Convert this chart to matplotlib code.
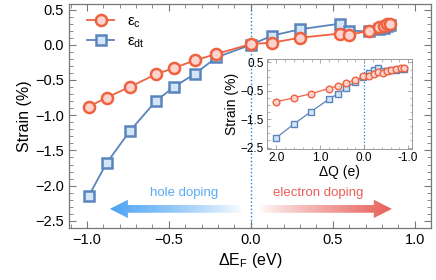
import numpy as np
import matplotlib
matplotlib.use('Agg')
import matplotlib.pyplot as plt
from matplotlib.patches import FancyArrow
from matplotlib.ticker import MultipleLocator, FormatStrFormatter

plt.rcParams['font.family'] = ['Liberation Sans', 'DejaVu Sans']
plt.rcParams['mathtext.default'] = 'regular'

## dados
dEF = [-0.99, -0.88, -0.74, -0.58, -0.47, -0.34, -0.21, 0.0, 0.13, 0.30,
       0.545, 0.60, 0.72, 0.78, 0.81, 0.83, 0.85]
dQ = [2.0, 1.61, 1.21, 0.81, 0.60, 0.42, 0.21, 0.02, -0.11, -0.22,
      -0.32, -0.42, -0.52, -0.62, -0.72, -0.83, -0.90]
strain_c = [-0.88, -0.75, -0.60, -0.42, -0.33, -0.22, -0.13, 0.01, 0.03, 0.10,
            0.16, 0.14, 0.20, 0.25, 0.27, 0.29, 0.30]
strain_dt = [-2.15, -1.68, -1.23, -0.80, -0.60, -0.41, -0.18, 0.0, 0.13, 0.22,
             0.30, 0.20, 0.19, 0.22, 0.24, 0.26, 0.28]

red, redface = '#EE6240', '#FDD3CE'
blue, blueface = '#5A84BC', '#D3E6F8'
gray = '#777777'

fig = plt.figure(figsize=(4.36, 2.80), dpi=100)
ax = fig.add_axes([0.158, 0.186, 0.831, 0.800])

ax.axvline(0, color='#2080D8', ls=':', lw=1.0, zorder=1)
ax.plot(dEF, strain_dt, '-s', color=blue, mfc=blueface, mec=blue, ms=7, mew=1.8,
        lw=1.3, label='ε$_{dt}$', zorder=3)
ax.plot(dEF, strain_c, '-o', color=red, mfc=redface, mec=red, ms=8, mew=1.8,
        lw=1.3, label='ε$_{c}$', zorder=4)

ax.set_xlim(-1.11, 1.10)
ax.set_ylim(-2.6, 0.58)
ax.set_xlabel('ΔE$_F$ (eV)', fontsize=11.5, labelpad=3)
ax.set_ylabel('Strain (%)', fontsize=11.5, labelpad=2)
ax.xaxis.set_major_locator(MultipleLocator(0.5))
ax.xaxis.set_minor_locator(MultipleLocator(0.1))
ax.yaxis.set_major_locator(MultipleLocator(0.5))
ax.yaxis.set_minor_locator(MultipleLocator(0.1))
ax.tick_params(which='both', direction='in', top=True, right=True, color=gray,
               labelsize=10.5)
ax.tick_params(which='major', length=5, width=0.8)
ax.tick_params(which='minor', length=3, width=0.6)
for s in ax.spines.values():
    s.set_color(gray)
    s.set_linewidth(0.9)

h, l = ax.get_legend_handles_labels()
ax.legend(h[::-1], l[::-1], loc='upper left', frameon=False, fontsize=11,
          handlelength=1.8, borderaxespad=0.3, labelspacing=0.3,
          bbox_to_anchor=(0.02, 1.0))

## setas com gradiente
def grad_arrow(x0, x1, y, rgb, fade_right):
    arr = FancyArrow(x0, y, x1 - x0, 0, width=0.11, head_width=0.26,
                     head_length=0.11, length_includes_head=True,
                     transform=ax.transData, fc='none', ec='none')
    ax.add_patch(arr)
    n = 256
    img = np.zeros((1, n, 4))
    img[0, :, :3] = rgb
    a = np.linspace(0, 1, n) ** 0.8
    img[0, :, 3] = a[::-1] if fade_right else a
    xs = sorted([x0, x1])
    im = ax.imshow(img, extent=[xs[0], xs[1], y - 0.15, y + 0.15],
                   aspect='auto', zorder=2, interpolation='bilinear')
    im.set_clip_path(arr)

grad_arrow(-0.05, -0.86, -2.33, (0.30, 0.64, 0.96), True)
grad_arrow(0.045, 0.86, -2.33, (0.91, 0.38, 0.35), False)
ax.set_xlim(-1.11, 1.10)
ax.set_ylim(-2.6, 0.58)
ax.text(-0.41, -2.10, 'hole doping', color='#5AABF5', fontsize=9.5,
        ha='center', va='center')
ax.text(0.41, -2.10, 'electron doping', color='#E8605A', fontsize=9.5,
        ha='center', va='center')

## inset
ins = fig.add_axes([0.612, 0.468, 0.333, 0.321])
ins.axvline(0, color='#2080D8', ls=':', lw=0.9, zorder=1)
ins.plot(dQ, strain_dt, '-s', color=blue, mfc=blueface, mec=blue, ms=4.3,
         mew=1.0, lw=0.9, zorder=3)
ins.plot(dQ, strain_c, '-o', color=red, mfc=redface, mec=red, ms=4.8,
         mew=1.0, lw=0.9, zorder=4)
ins.set_xlim(2.22, -1.09)
ins.set_ylim(-2.55, 0.62)
ins.xaxis.set_major_locator(MultipleLocator(1.0))
ins.xaxis.set_minor_locator(MultipleLocator(0.2))
ins.xaxis.set_major_formatter(FormatStrFormatter('%.1f'))
ins.yaxis.set_minor_locator(MultipleLocator(0.25))
ins.set_yticks([0.5, -0.5, -1.5, -2.5])
ins.set_xlabel('ΔQ (e)', fontsize=10, labelpad=1)
ins.set_ylabel('Strain (%)', fontsize=10, labelpad=1)
ins.tick_params(which='both', direction='in', top=True, right=True, color='#999999',
                labelsize=8.5, pad=2)
ins.tick_params(which='major', length=3, width=0.6)
ins.tick_params(which='minor', length=1.8, width=0.5)
for s in ins.spines.values():
    s.set_color('#999999')
    s.set_linewidth(0.7)

fig.savefig('out.png', dpi=100)
